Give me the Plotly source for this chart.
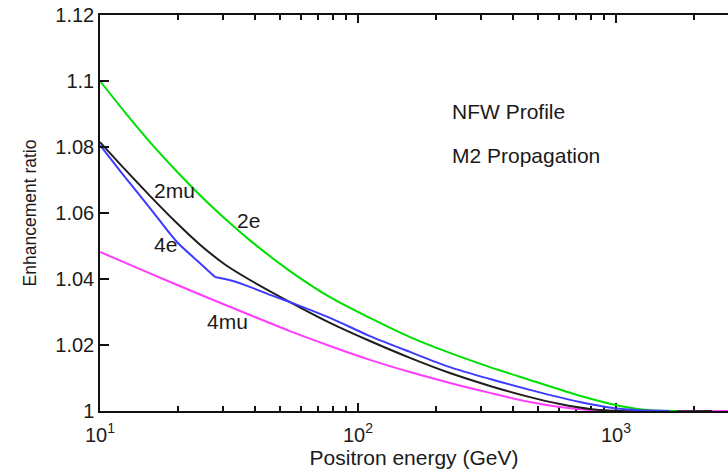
import numpy as np
import plotly.graph_objects as go

# Positron energy (GeV) and enhancement ratio for each annihilation channel
e_2e = [10, 12.5, 15.62, 19.53, 24.42, 32.78, 38.14, 54.51, 77.9, 111.3, 159.1,
        227.3, 324.8, 464.2, 725.2, 1036, 1354, 1722]
r_2e = [1.1, 1.0905, 1.0815, 1.0732, 1.0654, 1.0561, 1.0517, 1.0424, 1.0345,
        1.0282, 1.0224, 1.0176, 1.0133, 1.0094, 1.0046, 1.0015, 1.0002, 1.0]

e_2mu = [10, 12.5, 15.62, 19.53, 24.42, 30.51, 38.14, 54.51, 77.9, 111.3, 159.1,
         227.3, 324.8, 464.2, 606.7, 793.0, 1036, 2355]
r_2mu = [1.0815, 1.0732, 1.0652, 1.0575, 1.0504, 1.0444, 1.0397, 1.0330, 1.0267,
         1.0212, 1.0161, 1.0115, 1.0076, 1.0042, 1.0021, 1.0006, 1.0, 1.0]

e_4e = [10, 12.5, 15.62, 19.88, 24.42, 27.91, 32.78, 38.14, 45.6, 54.51, 77.9,
        111.3, 159.1, 227.3, 324.8, 464.2, 725.2, 973.6, 1239, 1618]
r_4e = [1.0806, 1.0709, 1.0615, 1.0512, 1.0448, 1.0406, 1.0394, 1.0376, 1.0352,
        1.0330, 1.0282, 1.0227, 1.0179, 1.0133, 1.0097, 1.0064, 1.0027, 1.0009,
        1.0002, 1.0]
kink_4e = 5  # index of the break in slope of the 4e curve

e_4mu = [10, 15.62, 24.42, 38.14, 54.51, 77.9, 111.3, 159.1, 227.3, 324.8, 464.2,
         606.7, 793.0, 1036, 3000]
r_4mu = [1.0482, 1.0417, 1.0353, 1.0291, 1.0242, 1.0197, 1.0155, 1.0118, 1.0085,
         1.0055, 1.0027, 1.0012, 1.0003, 1.0, 1.0]

# Curve labels placed next to each line
label_text = ["2mu", "2e", "4e", "4mu"]
label_e = [19.4, 37.5, 17.9, 31.3]
label_r = [1.0667, 1.0578, 1.0506, 1.0270]

# Model notes in the upper right
note_text = ["NFW Profile", "M2 Propagation"]
note_e = [227.5, 227.5]
note_r = [1.0909, 1.0773]

# Axis ticks
x_major = [10, 100, 1000]
x_major_text = ["10<sup>1</sup>", "10<sup>2</sup>", "10<sup>3</sup>"]
x_minor = [m * 10 ** d for d in range(1, 4) for m in range(2, 10)]
y_ticks = [1.0, 1.02, 1.04, 1.06, 1.08, 1.1, 1.12]
y_tick_text = ["1", "1.02", "1.04", "1.06", "1.08", "1.1", "1.12"]

FONT = "Liberation Sans, Arial, sans-serif"
INK = "#1a1a1a"

# (name, energies, ratios, colour); drawn bottom to top
series = [
    ("4mu", e_4mu, r_4mu, "#ff3cff"),
    ("2mu", e_2mu, r_2mu, "#1e1e1e"),
    ("2e", e_2e, r_2e, "#00e000"),
    ("4e", e_4e[:kink_4e + 1], r_4e[:kink_4e + 1], "#3c3cff"),
    ("4e", e_4e[kink_4e:], r_4e[kink_4e:], "#3c3cff"),
]

fig = go.Figure()
for name, xs, ys, col in series:
    fig.add_trace(go.Scatter(x=xs, y=ys, mode="lines", name=name,
                             line=dict(color=col, width=2, shape="spline",
                                       smoothing=0.8)))

for t, e, r in zip(label_text, label_e, label_r):
    fig.add_annotation(x=np.log10(e), y=r, xref="x", yref="y", text=t,
                       showarrow=False, xanchor="center", yanchor="middle",
                       font=dict(family=FONT, size=21, color=INK))

for t, e, r in zip(note_text, note_e, note_r):
    fig.add_annotation(x=np.log10(e), y=r, xref="x", yref="y", text=t,
                       showarrow=False, xanchor="left", yanchor="middle",
                       font=dict(family=FONT, size=21, color=INK))

fig.update_layout(
    width=728, height=473,
    margin=dict(l=100, r=0, t=15, b=62),
    paper_bgcolor="white", plot_bgcolor="white",
    showlegend=False,
    font=dict(family=FONT, color=INK),
)

fig.update_xaxes(
    type="log", range=[1, 3.4345],
    showgrid=False, zeroline=False,
    showline=True, linecolor="#111", linewidth=1.5, mirror="ticks",
    ticks="inside", ticklen=8, tickwidth=1.5, tickcolor="#111",
    tickmode="array", tickvals=x_major, ticktext=x_major_text,
    ticklabelstandoff=5,
    tickfont=dict(family=FONT, size=20, color=INK),
    minor=dict(tickmode="array", tickvals=x_minor, ticks="inside", ticklen=5,
               tickwidth=1.5, tickcolor="#111", showgrid=False),
    layer="below traces",
    title=dict(text="Positron energy (GeV)", standoff=3,
               font=dict(family=FONT, size=21, color=INK)),
)

fig.update_yaxes(
    range=[1, 1.12],
    showgrid=False, zeroline=False,
    showline=True, linecolor="#111", linewidth=1.5, mirror=False,
    ticks="inside", ticklen=9, tickwidth=1.5, tickcolor="#111",
    tickmode="array", tickvals=y_ticks, ticktext=y_tick_text,
    tickfont=dict(family=FONT, size=20, color=INK),
    layer="above traces",
    title=dict(text="Enhancement ratio", standoff=14,
               font=dict(family=FONT, size=17.5, color=INK)),
)

fig.write_html("out.html")
